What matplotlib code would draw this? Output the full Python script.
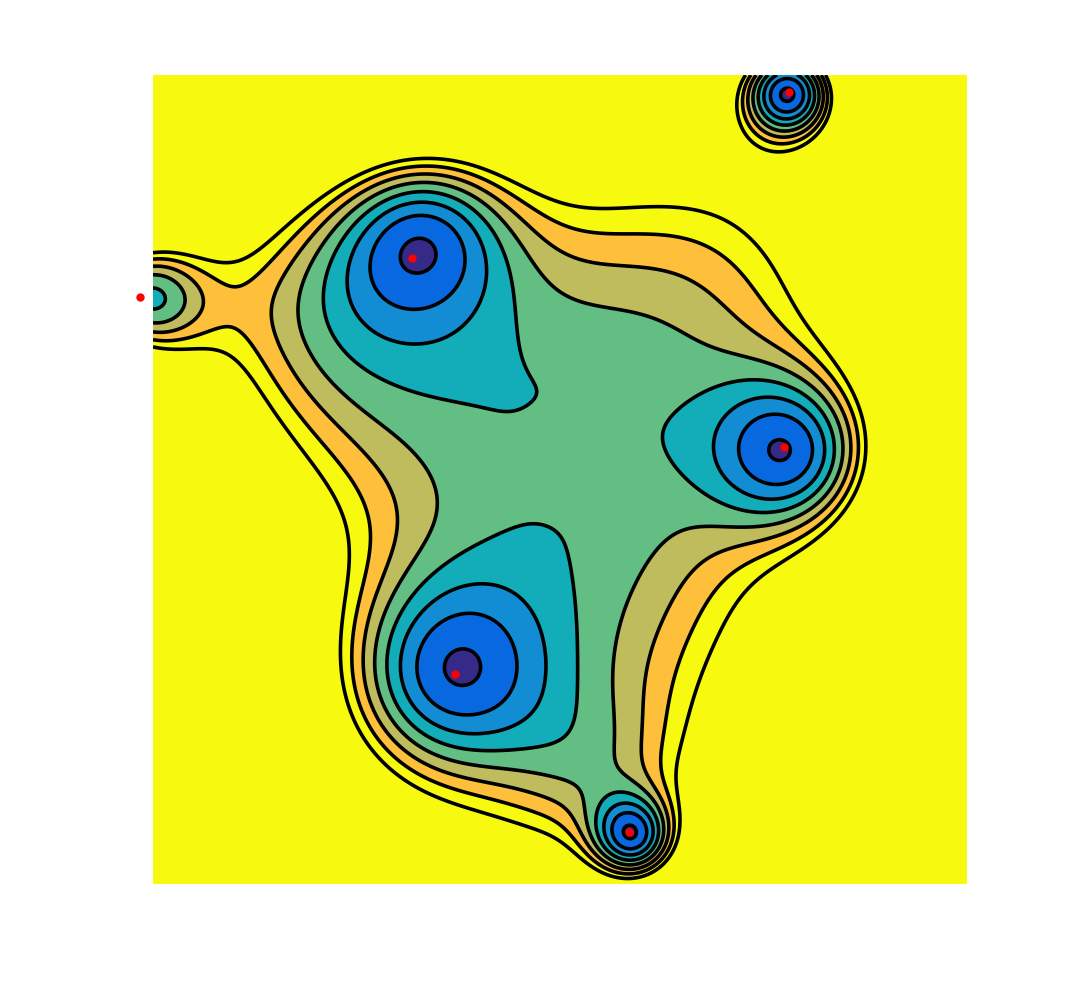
import numpy as np
import matplotlib
matplotlib.use('Agg')
import matplotlib.pyplot as plt

# gaussian wells that make up the surface (plot units, 0..10 on both axes)
# a negative depth is a small hump
well_x = [3.328, 7.989, 3.498, 5.911, 7.825, -0.293, 4.687, 5.534, 1.371, 7.276, 5.12]
well_y = [8.233, 5.300, 2.524, 0.549, 9.829, 7.275, 2.380, 1.191, 7.625, 8.705, 5.27]
well_depth = [6.150, 7.785, 6.177, 8.106, 14.000, 13.004, 31.368, 2.902, 16.484, 20.000, -0.4]
well_width = [0.826, 0.760, 0.944, 0.382, 0.483, 0.663, 4.453, 0.801, 1.995, 3.204, 0.42]

# contour levels
levels = [-38.61, -37.61, -36.61, -35.61, -34.61, -33.61, -32.61, -31.61]

# local minima (red dots)
min_x = [3.182, 7.752, 3.710, 5.848, 7.813, -0.160]
min_y = [7.738, 5.402, 2.596, 0.643, 9.790, 7.256]

band_colors = ['#352a87', '#0868e0', '#128cd2', '#12adb9', '#63be84',
               '#bfbc5e', '#fec03a', '#f7fa0f', '#f7fa0f']

x = np.linspace(0, 10, 600)
y = np.linspace(0, 10, 600)
X, Y = np.meshgrid(x, y)
Z = np.zeros_like(X)
for wx, wy, d, w in zip(well_x, well_y, well_depth, well_width):
    Z -= d * np.exp(-((X - wx) ** 2 + (Y - wy) ** 2) / (2 * w ** 2))

fill_levels = [min(Z.min(), levels[0]) - 1] + levels + [max(Z.max(), levels[-1]) + 1]

fig = plt.figure(figsize=(10.71, 9.94), dpi=100)
ax = fig.add_axes([153 / 1071, 110 / 994, 814 / 1071, 809 / 994])
ax.contourf(X, Y, Z, levels=fill_levels, colors=band_colors)
ax.contour(X, Y, Z, levels=levels, colors='k', linewidths=2.6, linestyles='solid')
ax.plot(min_x, min_y, 'o', color='red', ms=5, clip_on=False)
ax.set_xlim(0, 10)
ax.set_ylim(0, 10)
ax.axis('off')
fig.savefig('out.png')
